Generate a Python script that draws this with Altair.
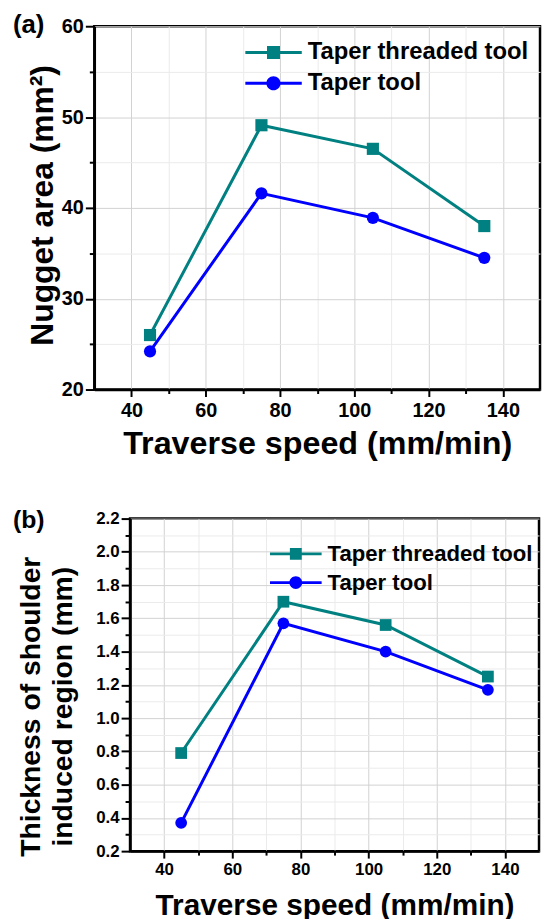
import altair as alt
import pandas as pd

# ---------------- data ----------------
speed = [45, 75, 105, 135]
tools = ["Taper threaded tool", "Taper tool"]
nugget_threaded = [26.0, 49.1, 46.5, 38.0]
nugget_taper = [24.2, 41.6, 38.9, 34.5]
thick_threaded = [0.79, 1.70, 1.56, 1.25]
thick_taper = [0.37, 1.57, 1.40, 1.17]
panel_labels = ["(a)", "(b)"]
x_ticks = [40, 50, 60, 70, 80, 90, 100, 110, 120, 130, 140]
ya_ticks = [20, 25, 30, 35, 40, 45, 50, 55, 60]
yb_ticks = [0.2, 0.3, 0.4, 0.5, 0.6, 0.7, 0.8, 0.9, 1.0, 1.1, 1.2,
            1.3, 1.4, 1.5, 1.6, 1.7, 1.8, 1.9, 2.0, 2.1, 2.2]

colors = ["#008080", "#0000ff"]
FONT = "Liberation Sans"

# legend symbols: line segment with marker
SQ_PATH = "M-1,-0.055H1V0.055H-1Z M-0.23,-0.23H0.23V0.23H-0.23Z"
CI_PATH = ("M-1,-0.055H1V0.055H-1Z M-0.25,0A0.25,0.25 0 1,1 0.25,0"
           "A0.25,0.25 0 1,1 -0.25,0Z")


def long_df(a, b):
    rows = []
    for s, v in zip(speed, a):
        rows.append({"speed": s, "value": v, "tool": tools[0]})
    for s, v in zip(speed, b):
        rows.append({"speed": s, "value": v, "tool": tools[1]})
    return pd.DataFrame(rows)


def cond(test, major, minor):
    return {"condition": {"test": test, "value": major}, "value": minor}


def panel(df, label, ytitle, ydomain, yticks, ytest, ylabel_expr,
          w, h, tick_fs, xtitle_fs, ytitle_fs, leg_fs, leg_x, leg_y, leg_size, leg_clip,
          lab_x, lab_y, lab_fs, ytitle_x, ytitle_y, ytitle_lh, xtitle_pad,
          msize):
    xtest = "datum.value % 20 === 0"
    x_axis = alt.Axis(
        values=x_ticks, title="Traverse speed (mm/min)",
        labelExpr="datum.value % 20 === 0 ? datum.label : ''",
        labelFont=FONT, labelFontSize=tick_fs, labelFontWeight="bold",
        labelColor="black", labelOverlap=False, labelFlush=False,
        labelPadding=4,
        titleFont=FONT, titleFontSize=xtitle_fs, titleFontWeight="bold",
        titleColor="black", titlePadding=xtitle_pad,
        domainColor="black", domainWidth=2.5,
        tickColor="black", tickWidth=2, tickSize=cond(xtest, 7, 4),
        grid=True, gridColor=cond(xtest, "#d2d2d2", "#ebebeb"), gridWidth=1,
    )
    y_axis = alt.Axis(
        values=yticks, title=ytitle,
        labelExpr=ylabel_expr,
        labelFont=FONT, labelFontSize=tick_fs, labelFontWeight="bold",
        labelColor="black", labelOverlap=False, labelFlush=False,
        labelPadding=2,
        titleFont=FONT, titleFontSize=ytitle_fs, titleFontWeight="bold",
        titleColor="black", titleX=ytitle_x, titleY=ytitle_y,
        titleAngle=270, titleBaseline="middle", titleAlign="center",
        titleLineHeight=ytitle_lh,
        domainColor="black", domainWidth=2.5,
        tickColor="black", tickWidth=2, tickSize=cond(ytest, 9, 5),
        grid=True, gridColor=cond(ytest, "#d2d2d2", "#ebebeb"), gridWidth=1,
    )
    x = alt.X("speed:Q", scale=alt.Scale(domain=[30, 150], nice=False), axis=x_axis)
    y = alt.Y("value:Q", scale=alt.Scale(domain=ydomain, nice=False, zero=False), axis=y_axis)

    base = alt.Chart(df)
    lines = base.mark_line(strokeWidth=3).encode(
        x=x, y=y,
        color=alt.Color("tool:N", scale=alt.Scale(domain=tools, range=colors), legend=None),
    )
    points = base.mark_point(filled=True, opacity=1, size=msize).encode(
        x=x, y=y,
        color=alt.Color("tool:N", scale=alt.Scale(domain=tools, range=colors), legend=None),
        shape=alt.Shape("tool:N", scale=alt.Scale(domain=tools, range=["square", "circle"]), legend=None),
    )
    leg = alt.Legend(
        orient="none", legendX=leg_x, legendY=leg_y, title=None,
        labelFont=FONT, labelFontSize=leg_fs, labelFontWeight="bold",
        labelColor="black", labelLimit=0, labelOffset=6,
        symbolSize=leg_size, symbolStrokeWidth=0, symbolOpacity=1,
        clipHeight=leg_clip, rowPadding=0, padding=0, direction="vertical",
    )
    legend_layer = base.mark_point(filled=True, opacity=1).encode(
        x=x, y=y,
        color=alt.Color("tool:N", scale=alt.Scale(domain=tools, range=colors), legend=leg),
        shape=alt.Shape("tool:N", scale=alt.Scale(domain=tools, range=[SQ_PATH, CI_PATH]), legend=leg),
    ).transform_filter("false")
    lab = alt.Chart(pd.DataFrame({"label": [label]})).mark_text(
        align="left", baseline="middle", font=FONT, fontSize=lab_fs,
        fontWeight="bold", color="black",
    ).encode(x=alt.value(lab_x), y=alt.value(lab_y), text="label:N")

    return alt.layer(lines, points, legend_layer, lab).resolve_scale(
        color="independent", shape="independent"
    ).properties(width=w, height=h)


def spacer(w):
    # empty, invisible cell used only to offset a panel horizontally
    return alt.Chart(pd.DataFrame({"label": [""]})).mark_text(opacity=0).encode(
        text="label:N"
    ).properties(width=w, height=1, view=alt.ViewBackground(stroke="transparent"))


df_a = long_df(nugget_threaded, nugget_taper)
df_b = long_df(thick_threaded, thick_taper)

pa = panel(df_a, panel_labels[0], "Nugget area (mm²)", [20, 60], ya_ticks,
           "datum.value % 10 === 0", "datum.value % 10 === 0 ? datum.label : ''",
           449, 366, 20, 32.5, 32, 24, 152, 11, 3249, 31,
           -82, -1, 26, -52, 180, 34, 7, 150)
pb = panel(df_b, panel_labels[1],
           ["Thickness of shoulder", "induced region (mm)"], [0.2, 2.2], yb_ticks,
           "abs(round(datum.value * 10)) % 2 === 0",
           "abs(round(datum.value * 10)) % 2 === 0 ? format(datum.value, '.1f') : ''",
           412, 335, 17, 30, 28.5, 22.3, 141, 21, 2704, 29,
           -118, 1, 25, -100, 189, 32, 13, 140)

row_a = alt.hconcat(spacer(1), pa, spacing=0)
row_b = alt.hconcat(spacer(1), pb, spacing=0)

chart = alt.vconcat(row_a, row_b, spacing=45).properties(
    padding={"left": 8, "top": 7, "right": 0, "bottom": 0}
).configure_view(stroke="black", strokeWidth=2.5)

chart.save("out.html", embed_options={"renderer": "svg", "actions": False})
